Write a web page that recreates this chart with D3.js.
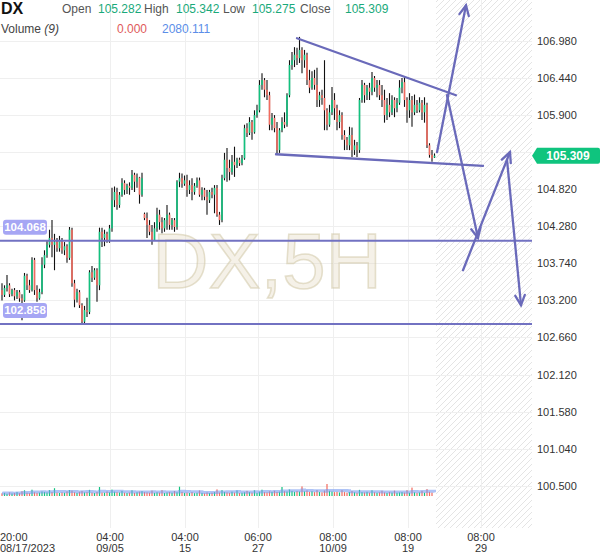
<!DOCTYPE html>
<html><head><meta charset="utf-8">
<script src="https://cdn.jsdelivr.net/npm/d3@7"></script>
<style>
html,body{margin:0;padding:0;background:#fff;}
svg{display:block;font-family:"Liberation Sans",Arial,sans-serif;}
</style></head>
<body><svg id="c" width="600" height="558"></svg>
<script>
// ---- data ----
const candles = [
[103.35,103.45,103.20,103.28],[103.28,103.42,103.25,103.38],[103.38,103.57,103.33,103.42],[103.42,103.45,103.25,103.29],[103.29,103.37,103.26,103.35],
[103.35,103.38,103.20,103.26],[103.26,103.35,103.22,103.32],[103.32,103.35,103.18,103.23],[103.23,103.29,102.91,103.20],[103.20,103.60,103.18,103.56],
[103.56,103.59,103.35,103.42],[103.42,103.50,103.31,103.35],[103.35,103.83,103.33,103.79],[103.79,103.82,103.28,103.35],[103.35,103.42,103.18,103.23],
[103.23,103.37,103.21,103.32],[103.32,103.83,103.29,103.72],[103.72,103.93,103.67,103.86],[103.86,104.08,103.82,104.01],[104.01,104.23,103.97,104.11],
[104.11,104.37,103.83,104.01],[104.01,104.17,103.64,104.05],[104.05,104.11,103.91,103.96],[103.96,104.14,103.91,104.08],[104.08,104.11,103.88,103.93],
[103.93,104.05,103.86,103.99],[103.99,104.02,103.75,103.82],[103.82,104.27,103.79,104.23],[104.23,104.26,103.40,103.45],[103.45,103.50,103.10,103.21],
[103.21,103.37,103.17,103.32],[103.32,103.35,103.09,103.13],[103.13,103.16,102.84,102.89],[102.89,103.12,102.85,103.06],[103.06,103.24,102.96,103.03],
[103.03,103.64,103.00,103.61],[103.61,103.70,103.47,103.53],[103.53,103.67,103.50,103.64],[103.64,103.67,103.18,103.42],[103.42,104.26,103.35,104.20],
[104.20,104.26,103.98,104.11],[104.11,104.23,103.99,104.17],[104.17,104.20,104.04,104.08],[104.08,104.30,104.04,104.25],[104.25,104.84,104.20,104.66],
[104.66,104.86,104.56,104.78],[104.78,104.84,104.52,104.59],[104.59,104.78,104.55,104.74],[104.74,104.98,104.71,104.91],[104.91,104.95,104.74,104.81],
[104.81,104.90,104.75,104.87],[104.87,104.92,104.74,104.84],[104.84,105.10,104.81,105.03],[105.03,105.06,104.78,104.93],[104.93,105.05,104.84,104.99],
[104.99,105.00,104.61,104.74],[104.74,105.06,104.71,104.98],[104.46,104.48,104.37,104.40],[104.40,104.48,104.11,104.30],[104.30,104.37,104.15,104.20],
[104.20,104.30,104.01,104.08],[104.08,104.34,104.07,104.25],[104.25,104.55,104.20,104.45],[104.45,104.52,104.23,104.34],[104.34,104.41,104.18,104.25],
[104.25,104.40,104.20,104.37],[104.37,104.59,104.23,104.45],[104.45,104.48,104.23,104.30],[104.30,104.40,104.23,104.37],[104.37,104.40,104.20,104.27],
[104.27,104.95,104.23,104.93],[104.93,105.06,104.85,104.98],[104.98,105.05,104.84,104.90],[104.90,105.02,104.87,104.95],[104.95,105.03,104.71,104.81],
[104.81,104.95,104.75,104.88],[104.88,104.98,104.66,104.78],[104.78,104.91,104.74,104.87],[104.87,104.99,104.84,104.95],[104.95,104.99,104.71,104.74],
[104.74,104.85,104.66,104.81],[104.81,104.84,104.66,104.71],[104.71,104.81,104.45,104.66],[104.66,104.81,104.62,104.78],[104.78,104.84,104.69,104.74],
[104.74,104.88,104.47,104.84],[104.84,104.88,104.42,104.45],[104.45,104.49,104.30,104.37],[104.37,105.03,104.34,104.98],[104.98,105.35,104.95,105.25],
[105.25,105.42,104.93,105.13],[105.13,105.25,104.95,105.07],[105.07,105.32,105.03,105.22],[105.22,105.44,105.00,105.17],[105.17,105.28,105.13,105.25],
[105.25,105.28,105.16,105.20],[105.20,105.32,105.17,105.27],[105.27,105.76,105.25,105.71],[105.71,105.78,105.58,105.64],[105.64,105.87,105.61,105.80],
[105.80,105.83,105.54,105.65],[105.65,105.97,105.63,105.90],[105.90,106.05,105.86,105.97],[105.97,106.41,105.94,106.34],[106.34,106.51,106.27,106.41],
[106.41,106.44,106.16,106.27],[106.27,106.41,106.12,106.19],[106.19,106.24,105.68,105.76],[105.76,105.93,105.68,105.86],[105.86,105.90,105.65,105.71],
[105.71,105.80,105.32,105.39],[105.39,105.71,105.35,105.68],[105.68,105.87,105.65,105.80],[105.80,105.94,105.71,105.76],[105.76,106.22,105.73,106.19],
[106.19,106.70,106.16,106.63],[106.63,106.82,106.56,106.70],[106.70,106.89,106.60,106.78],[106.78,106.88,106.63,106.73],[106.73,107.04,106.66,106.85],
[106.85,106.89,106.51,106.70],[106.70,106.85,106.59,106.78],[106.78,106.81,106.34,106.41],[106.41,106.56,106.22,106.30],[106.30,106.54,106.27,106.44],
[106.44,106.56,106.27,106.34],[106.34,106.59,106.02,106.12],[106.12,106.24,106.02,106.19],[106.19,106.27,106.05,106.15],[106.15,106.70,105.68,105.97],
[105.97,106.00,105.68,105.76],[105.76,106.05,105.73,105.94],[105.94,106.31,105.90,106.12],[106.12,106.22,105.83,106.00],[106.00,106.05,105.68,105.80],
[105.80,105.97,105.71,105.90],[105.90,105.94,105.54,105.61],[105.61,105.68,105.39,105.54],[105.54,105.58,105.39,105.46],[105.46,105.73,105.39,105.61],
[105.61,105.72,105.29,105.39],[105.39,105.54,105.32,105.46],[105.46,105.51,105.29,105.39],[105.39,106.15,105.35,106.12],[106.12,106.41,106.08,106.34],
[106.34,106.37,106.08,106.19],[106.19,106.34,106.12,106.30],[106.30,106.37,106.12,106.24],[106.24,106.53,106.19,106.44],[106.44,106.47,106.24,106.30],
[106.30,106.41,106.16,106.34],[106.34,106.41,106.12,106.19],[106.19,106.34,106.02,106.12],[106.12,106.27,105.79,105.90],[105.90,106.15,105.83,106.05],
[106.05,106.22,105.87,105.94],[105.94,106.19,105.90,106.12],[106.12,106.16,105.87,106.00],[106.00,106.15,105.94,106.08],[106.08,106.41,106.05,106.30],
[106.30,106.44,106.22,106.38],[106.38,106.46,106.02,106.12],[106.12,106.16,105.79,105.97],[105.97,106.22,105.86,106.12],[106.12,106.18,105.73,105.94],
[105.94,106.20,105.90,106.05],[106.05,106.12,105.93,105.97],[105.97,106.16,105.94,106.08],[106.08,106.12,105.83,105.94],[105.94,106.16,105.79,106.05],
[106.05,106.08,105.42,105.46],[105.46,105.49,105.28,105.32],[105.32,105.39,105.22,105.27],[105.282,105.342,105.275,105.309]
];
const volumes = [
1800,2100,1500,2400,1700,2000,2600,1900,3200,3800,
2200,1900,4200,2500,2100,2300,3000,2700,2400,3900,
2600,5200,2300,2000,2400,2200,3100,4000,3600,2500,
2100,2800,3300,2400,2600,4100,2300,2000,2700,6000,
2400,2200,3000,2500,4300,2900,2600,2400,3400,2200,
2000,2300,3800,2100,2500,2900,3200,2600,2400,2200,
3600,2100,2500,2300,3900,2000,2400,2700,2200,3300,
2500,6200,2800,2100,2300,2000,2600,1900,2200,3700,
2100,1800,2400,2000,2200,2600,4400,2300,3900,2700,
2400,2100,2900,2300,3700,2000,2200,2500,3400,2600,
2300,3800,2100,2900,4200,2600,2400,3100,2800,3500,
2700,2900,6000,3200,3000,4300,3400,2800,3300,3000,
6400,3100,3700,2800,3200,2600,3900,2700,2500,3600,
8000,3500,3000,2600,2800,2400,3900,2600,2300,2700,
3300,2500,2200,4100,2600,2400,2800,2300,3800,2500,
2200,2500,3500,2400,2100,2700,2300,3600,2200,2400,
2600,2300,3900,2200,5600,2500,2100,2400,3400,2200,
4600,2800,2300,0
];
const yTicks = [100.5,101.04,101.58,102.12,102.66,103.2,103.74,104.28,104.82,105.36,105.9,106.44,106.98];
const xTickIdx = [-0.8,43.2,73.2,102.4,132.4,162.4,191.6];
const xTickTime = ["20:00","04:00","04:00","06:00","08:00","08:00","08:00"];
const xTickDate = ["08/17/2023","09/05","15","27","10/09","19","29"];
const hLevels = [104.068, 102.858];
const lastClose = 105.309;
const header = {open:"105.282", high:"105.342", low:"105.275", close:"105.309", vol:"0.000", volMa:"2080.111"};
// annotation segments in [index, price] units
const trendLines = [
  [[118,107.02],[181.6,106.19]],
  [[109.6,105.33],[192.4,105.16]]
];
const arrows = [
  [[174,105.36],[185.6,107.50]],
  [[178,106.19],[190.4,104.11]],
  [[184.4,103.64],[203.2,105.36]],
  [[202,105.25],[207.6,103.13]]
];

// ---- scales ----
const svg = d3.select("#c");
const plotRight = 532, plotBottom = 528;
const x = d3.scaleLinear().domain([-0.8, 212]).range([0, plotRight]);
const y = d3.scaleLinear().domain([100.5, 106.98]).range([485.7, 41]);
const yv = d3.scaleLinear().domain([0, 8000]).range([496, 484]);
const lastIdx = candles.length - 1;

// hatch pattern
const defs = svg.append("defs");
const pat = defs.append("pattern").attr("id","hatch").attr("patternUnits","userSpaceOnUse").attr("width",6).attr("height",6);
pat.append("path").attr("d","M0,6 L6,0 M-1,1 L1,-1 M5,7 L7,5").attr("stroke","#e4e4e4").attr("stroke-width",1);
const clip = defs.append("clipPath").attr("id","plotclip");
clip.append("rect").attr("x",0).attr("y",0).attr("width",plotRight).attr("height",plotBottom);

svg.append("rect").attr("x", x(lastIdx)+1.5).attr("y",0).attr("width", plotRight - x(lastIdx) - 1.5).attr("height", plotBottom).attr("fill","url(#hatch)");

// grid
const grid = svg.append("g").attr("shape-rendering","crispEdges");
grid.selectAll("line.h").data(yTicks).join("line")
  .attr("x1",0).attr("x2",plotRight).attr("y1",d=>Math.round(y(d))+0.5).attr("y2",d=>Math.round(y(d))+0.5)
  .attr("stroke","#efefef");
grid.selectAll("line.v").data(xTickIdx.slice(1)).join("line")
  .attr("x1",d=>Math.round(x(d))+0.5).attr("x2",d=>Math.round(x(d))+0.5).attr("y1",0).attr("y2",plotBottom)
  .attr("stroke","#efefef");

// watermark
svg.append("text").attr("x",267).attr("y",288).attr("text-anchor","middle")
  .attr("font-size",78).attr("font-family","Liberation Sans, Arial, sans-serif")
  .attr("fill","rgba(225,216,188,0.35)").attr("stroke","rgba(205,195,160,0.5)").attr("stroke-width",1.5)
  .text("DX,5H");

// volume
const vg = svg.append("g").attr("clip-path","url(#plotclip)");
vg.selectAll("rect.vol").data(volumes).join("rect")
  .attr("x",(d,i)=>x(i)-0.6).attr("width",1.2)
  .attr("y",d=>yv(d)).attr("height",d=>yv(0)-yv(d))
  .attr("fill",(d,i)=>candles[i][3]>=candles[i][0]?"#12c27f":"#f26b5f");
const ma = volumes.map((v,i)=>{const s=volumes.slice(Math.max(0,i-8),i+1);return d3.mean(s);});
vg.append("path").datum(ma)
  .attr("d", d3.line().x((d,i)=>x(i)).y(d=>yv(d)).curve(d3.curveStepAfter))
  .attr("fill","none").attr("stroke","rgba(120,155,240,0.6)").attr("stroke-width",3);

// candles
const cg = svg.append("g").attr("clip-path","url(#plotclip)");
cg.selectAll("line.wick").data(candles).join("line")
  .attr("x1",(d,i)=>x(i)).attr("x2",(d,i)=>x(i))
  .attr("y1",d=>y(d[1])).attr("y2",d=>y(d[2]))
  .attr("stroke","#111").attr("stroke-width",1.1);
cg.selectAll("rect.body").data(candles).join("rect")
  .attr("x",(d,i)=>x(i)-0.8).attr("width",1.6)
  .attr("y",d=>y(Math.max(d[0],d[3])))
  .attr("height",d=>Math.max(1,Math.abs(y(d[0])-y(d[3]))))
  .attr("fill",d=>d[3]>=d[0]?"#12c27f":"#f26b5f");

// horizontal levels
const lc = "#7272c2";
svg.selectAll("line.lvl").data(hLevels).join("line")
  .attr("x1",0).attr("x2",plotRight).attr("y1",d=>y(d)).attr("y2",d=>y(d))
  .attr("stroke",lc).attr("stroke-width",2);
hLevels.forEach(v=>{
  const g = svg.append("g");
  g.append("rect").attr("x",3).attr("y",y(v)-21).attr("width",44).attr("height",15).attr("rx",3).attr("fill","#a6a6f4");
  g.append("text").attr("x",25).attr("y",y(v)-9.5).attr("text-anchor","middle").attr("font-size",11.5).attr("font-weight","bold").attr("fill","#fff").text(v.toFixed(3));
});

// trend lines & arrows
const ag = svg.append("g").attr("stroke","#6a6aba").attr("stroke-width",2.3).attr("fill","none").attr("stroke-linecap","round");
trendLines.forEach(s=>{
  ag.append("line").attr("x1",x(s[0][0])).attr("y1",y(s[0][1])).attr("x2",x(s[1][0])).attr("y2",y(s[1][1]));
});
arrows.forEach(s=>{
  const x1=x(s[0][0]), y1=y(s[0][1]), x2=x(s[1][0]), y2=y(s[1][1]);
  ag.append("line").attr("x1",x1).attr("y1",y1).attr("x2",x2).attr("y2",y2);
  const a = Math.atan2(y2-y1,x2-x1), L=11, w=0.45;
  ag.append("path").attr("d",`M${x2-L*Math.cos(a-w)},${y2-L*Math.sin(a-w)} L${x2},${y2} L${x2-L*Math.cos(a+w)},${y2-L*Math.sin(a+w)}`);
});

// y axis labels
svg.selectAll("text.yl").data(yTicks).join("text")
  .attr("x",537).attr("y",d=>y(d)+4).attr("font-size",11).attr("fill","#333").text(d=>d.toFixed(3));

// last price badge
const ly = y(lastClose);
svg.append("path").attr("d",`M532,${ly} L537,${ly-8} L598,${ly-8} Q600,${ly-8} 600,${ly-6} L600,${ly+6} Q600,${ly+8} 598,${ly+8} L537,${ly+8} Z`).attr("fill","#0fc47e");
svg.append("text").attr("x",568).attr("y",ly+4.5).attr("text-anchor","middle").attr("font-size",12).attr("font-weight","bold").attr("fill","#fff").text(lastClose.toFixed(3));

// x axis labels
svg.selectAll("text.xt").data(xTickIdx).join("text")
  .attr("x",(d,i)=>i===0?0:x(d)).attr("text-anchor",(d,i)=>i===0?"start":"middle")
  .attr("y",541).attr("font-size",11).attr("fill","#333").text((d,i)=>xTickTime[i]);
svg.selectAll("text.xd").data(xTickIdx).join("text")
  .attr("x",(d,i)=>i===0?0:x(d)).attr("text-anchor",(d,i)=>i===0?"start":"middle")
  .attr("y",552).attr("font-size",11).attr("fill","#333").text((d,i)=>xTickDate[i]);

// header
const hd = svg.append("g").attr("font-size",12);
hd.append("text").attr("x",1).attr("y",14).attr("font-size",16).attr("font-weight","bold").attr("fill","#111").text("DX");
const row1 = [["Open",62,"#555"],[header.open,98,"#19a97a"],["High",144,"#555"],[header.high,176,"#19a97a"],["Low",223,"#555"],[header.low,252,"#19a97a"],["Close",300,"#555"],[header.close,345,"#19a97a"]];
row1.forEach(r=>hd.append("text").attr("x",r[1]).attr("y",13).attr("fill",r[2]).text(r[0]));
const vt = hd.append("text").attr("x",1).attr("y",33).attr("fill","#444");
vt.append("tspan").text("Volume ");
vt.append("tspan").attr("font-style","italic").text("(9)");
hd.append("text").attr("x",117).attr("y",33).attr("fill","#e05a5a").text(header.vol);
hd.append("text").attr("x",162).attr("y",33).attr("fill","#5b8ee8").text(header.volMa);
</script></body></html>
